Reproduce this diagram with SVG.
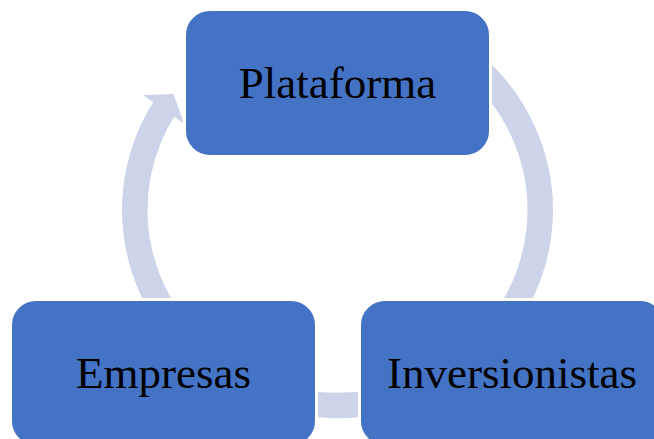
<svg xmlns="http://www.w3.org/2000/svg" width="654" height="439" viewBox="0 0 654 439">
<style>
.arc{fill:none;stroke:#CDD4EA;stroke-width:25.5;stroke-linecap:butt}
.head{fill:#CDD4EA;stroke:none}
.box{fill:#4472C4;stroke:#FFFFFF;stroke-width:3}
.lbl{font-family:"Liberation Serif","Times New Roman",serif;font-size:45px;fill:#000000;text-anchor:middle}
</style>
<rect width="654" height="439" fill="#FFFFFF"/>
<g id="connectors">
<path class="arc" d="M470.5,62.5 A202.75,195.5 0 0 1 432.7,382.6"/>
<path class="arc" d="M406.8,393.7 A202.75,195.5 0 0 1 261.5,391.3"/>
<path class="arc" d="M221.2,370.15 A202.75,195.5 0 0 1 165.57,106.4"/>
<polygon class="head" points="143,95 173.5,94 184,123.5"/>
</g>
<g id="node-plataforma">
<rect class="box" x="184.5" y="9.5" width="306" height="147" rx="25.5"/>
<text class="lbl" x="337.5" y="98.3">Plataforma</text>
</g>
<g id="node-empresas">
<rect class="box" x="10.5" y="299.5" width="306" height="147" rx="25.5"/>
<text class="lbl" x="163.5" y="388.3">Empresas</text>
</g>
<g id="node-inversionistas">
<rect class="box" x="359.5" y="299.5" width="306" height="147" rx="25.5"/>
<text class="lbl" x="512" y="388.3">Inversionistas</text>
</g>
</svg>
